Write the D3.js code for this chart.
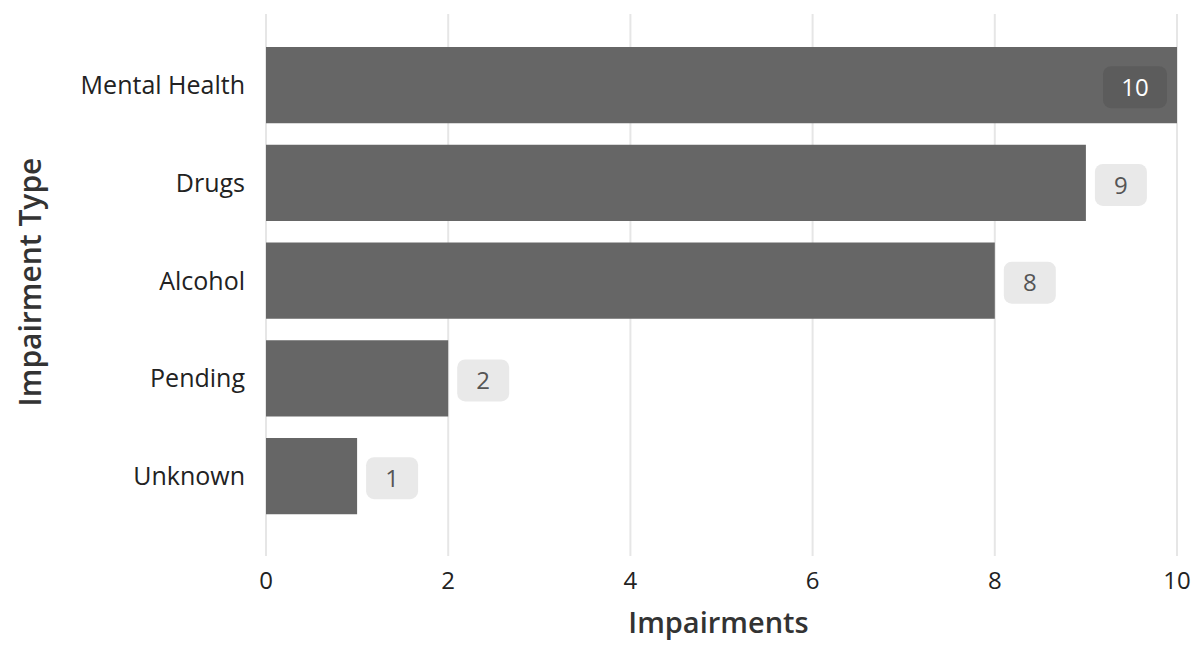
<!DOCTYPE html>
<html><head><meta charset="utf-8">
<script src="https://cdn.jsdelivr.net/npm/d3@7"></script>
<style>body{margin:0;background:#fff}svg{display:block}</style>
</head><body>
<svg id="c" width="1194" height="645"></svg>
<script>
const categories = ["Mental Health","Drugs","Alcohol","Pending","Unknown"];
const values = [10,9,8,2,1];
const xTicks = [0,2,4,6,8,10];
const xTitle = "Impairments";
const yTitle = "Impairment Type";

const svg = d3.select("#c");
const font = "'Open Sans', 'Noto Sans', sans-serif";
const x = d3.scaleLinear().domain([0,10]).range([266,1177]);
const y = d3.scaleBand().domain(categories).range([36.25,525]).paddingInner(0.22).paddingOuter(0.11);

// gridlines
svg.append("g").selectAll("line").data(xTicks).join("line")
  .attr("x1",d=>x(d)).attr("x2",d=>x(d)).attr("y1",14).attr("y2",556)
  .attr("stroke","#e6e6e6").attr("stroke-width",2);

// bars
svg.append("g").selectAll("rect").data(categories).join("rect")
  .attr("x",x(0)).attr("y",d=>y(d)).attr("height",y.bandwidth())
  .attr("width",(d,i)=>x(values[i])-x(0)).attr("fill","#666666");

// value badges
const lab = svg.append("g").selectAll("g").data(categories).join("g");
lab.each(function(d,i){
  const v = values[i];
  const g = d3.select(this);
  const inside = v >= 10;
  const w = String(v).length>1 ? 64 : 52, h = 42;
  const cx = inside ? x(v) - 9 - w/2 - 1 : x(v) + 9 + w/2;
  const cy = y(d) + y.bandwidth()/2 + 2;
  g.append("rect").attr("x",cx-w/2).attr("y",cy-h/2).attr("width",w).attr("height",h)
    .attr("rx",8).attr("fill",inside?"#5c5c5c":"#e9e9e9");
  g.append("text").attr("x",cx).attr("y",cy).attr("dy","0.36em").attr("text-anchor","middle")
    .attr("font-family",font).attr("font-size",24).attr("fill",inside?"#ffffff":"#555555").text(v);
});

// y tick labels
svg.append("g").selectAll("text").data(categories).join("text")
  .attr("x",245).attr("y",d=>y(d)+y.bandwidth()/2).attr("dy","0.36em").attr("text-anchor","end")
  .attr("font-family",font).attr("font-size",25).attr("fill","#222").text(d=>d);

// x tick labels
svg.append("g").selectAll("text").data(xTicks).join("text")
  .attr("x",d=>x(d)).attr("y",580).attr("dy","0.36em").attr("text-anchor","middle")
  .attr("font-family",font).attr("font-size",24).attr("fill","#222").text(d=>d);

// axis titles
svg.append("text").attr("x",x(5) - 3).attr("y",623).attr("dy","0.36em").attr("text-anchor","middle")
  .attr("font-family",font).attr("font-size",29).attr("font-weight",600).attr("fill","#333").text(xTitle);
svg.append("text").attr("transform","translate(30,282) rotate(-90)").attr("dy","0.36em").attr("text-anchor","middle")
  .attr("font-family",font).attr("font-size",30).attr("font-weight",600).attr("fill","#333").text(yTitle);
</script>
</body></html>
